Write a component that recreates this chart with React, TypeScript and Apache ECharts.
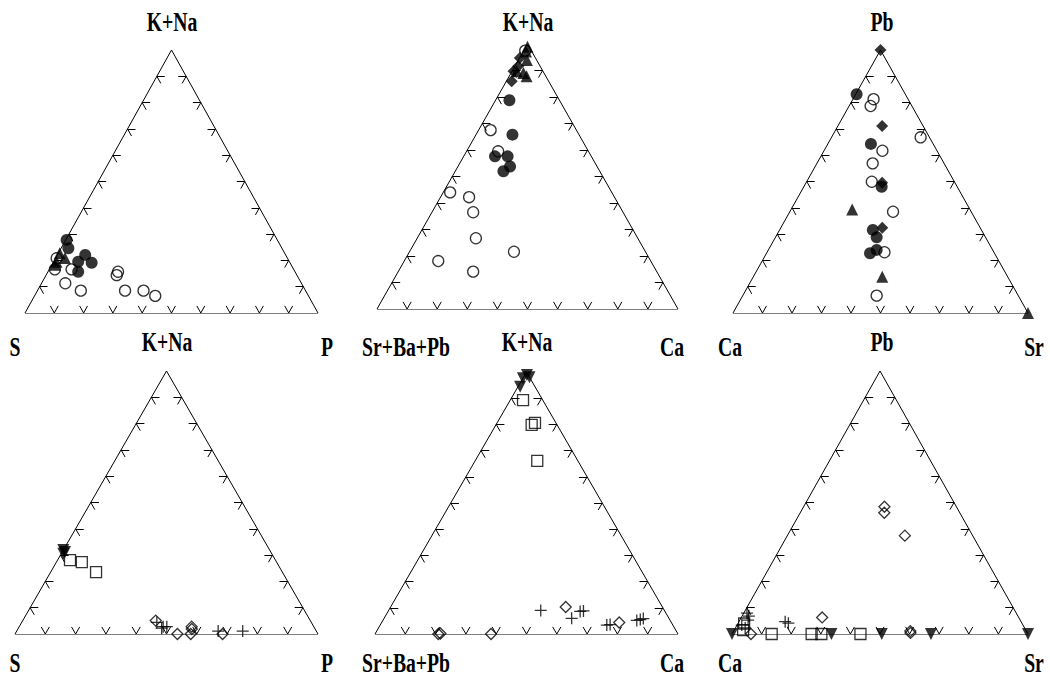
import React, { useEffect, useRef } from "react";
import * as echarts from "echarts";

// Every point is [top %, left %, right %] of its ternary diagram.

// Diagram 1: K+Na (top), S (left), P (right)
const t1OpenCircle = [[20.8, 78.8, 0.4], [16.6, 81.5, 1.9], [16.6, 75.8, 7.6], [11.3, 80.6, 8.1], [8.5, 76.7, 14.8], [15.7, 60.4, 23.9], [14.4, 61.5, 24.1], [8.5, 61.6, 29.9], [8.5, 55.3, 36.2], [6.5, 52.3, 41.2]];
const t1FilledCircle = [[27.8, 71.9, 0.3], [24.6, 72.9, 2.5], [22.1, 68.4, 9.5], [19.1, 67.7, 13.2], [19.5, 72.1, 8.4], [15.7, 74.0, 10.3]];
const t1FilledTriangle = [[22.7, 76.8, 0.5], [19.5, 79.5, 1.0], [20.9, 75.9, 3.2], [18.3, 80.6, 1.1]];

// Diagram 2: K+Na (top), Sr+Ba+Pb (left), Ca (right)
const t2OpenCircle = [[67.5, 28.5, 4.0], [59.5, 30.0, 10.5], [44.0, 53.7, 2.3], [42.2, 48.3, 9.5], [36.5, 49.8, 13.7], [26.7, 53.8, 19.5], [18.1, 70.6, 11.3], [14.1, 61.0, 24.9], [21.6, 43.7, 34.7], [97.5, 2.0, 0.5]];
const t2FilledCircle = [[78.8, 16.6, 4.6], [65.8, 22.1, 12.1], [57.6, 32.0, 10.4], [57.6, 27.8, 14.6], [53.8, 28.9, 17.3], [52.0, 32.0, 16.0]];
const t2FilledTriangle = [[99.0, 0.5, 0.5], [97.2, 1.9, 0.9], [89.1, 6.8, 4.1], [87.8, 6.4, 5.8], [89.7, 8.7, 1.6], [94.0, 3.2, 2.8]];
const t2FilledDiamond = [[94.7, 5.2, 0.1], [91.6, 7.3, 1.1], [89.7, 9.8, 0.5], [85.9, 12.3, 1.8]];

// Diagram 3: Pb (top), Ca (left), Sr (right)
const t3OpenCircle = [[81.3, 11.7, 7.0], [78.7, 14.0, 7.3], [61.7, 18.5, 19.8], [56.9, 24.2, 18.9], [49.9, 28.0, 22.1], [38.5, 26.5, 35.0], [66.8, 3.0, 30.2], [23.1, 37.1, 39.8], [6.6, 48.0, 45.4]];
const t3FilledCircle = [[83.2, 16.5, 0.3], [64.3, 21.1, 14.6], [48.0, 25.6, 26.4], [31.6, 36.8, 31.6], [28.8, 36.9, 34.3], [24.0, 39.3, 36.7], [22.7, 42.2, 35.1]];
const t3FilledTriangle = [[39.4, 39.9, 20.7], [13.8, 42.5, 43.7], [0, 0, 100]];
const t3FilledDiamond = [[100, 0, 0], [71.1, 13.9, 15.0], [49.5, 24.7, 25.8], [32.4, 33.2, 34.4]];

// Diagram 4: K+Na (top), S (left), P (right)
const t4DownTriangle = [[31.9, 68.1, 0], [31.2, 67.9, 0.9], [30.5, 68.8, 0.7]];
const t4OpenSquare = [[28.1, 67.8, 4.1], [27.3, 64.3, 8.4], [23.5, 61.5, 15.0]];
const t4OpenDiamond = [[5.1, 51.0, 43.9], [0, 46.4, 53.6], [2.8, 40.3, 56.9], [0, 42.0, 58.0], [0, 31.5, 68.5], [1.9, 40.7, 57.4]];
const t4Plus = [[4.4, 51.0, 44.6], [2.8, 49.7, 47.5], [2.8, 48.5, 48.7], [2.2, 50.5, 47.3], [1.1, 32.4, 66.5], [1.1, 24.3, 74.6]];

// Diagram 5: K+Na (top), Sr+Ba+Pb (left), Ca (right)
const t5DownTriangle = [[98.9, 0.4, 0.7], [97.6, 2.4, 0], [94.4, 4.9, 0.7], [98.0, 0, 2.0]];
const t5OpenSquare = [[89.3, 6.5, 4.2], [79.8, 8.4, 11.8], [80.6, 6.9, 12.5], [66.1, 13.4, 20.5]];
const t5OpenDiamond = [[10.3, 31.9, 57.8], [4.4, 17.2, 78.4], [0, 79.1, 20.9], [0.2, 78.3, 21.5], [0, 61.7, 38.3]];
const t5Plus = [[9.0, 40.8, 50.2], [8.6, 28.0, 63.4], [6.0, 32.1, 61.9], [3.4, 21.8, 74.8], [3.6, 20.6, 75.8], [5.2, 11.0, 83.8], [5.5, 9.7, 84.8], [5.9, 8.5, 85.6], [8.8, 26.8, 64.4]];

// Diagram 6: Pb (top), Ca (left), Sr (right)
const t6OpenDiamond = [[48.4, 24.3, 27.3], [46.1, 25.5, 28.4], [37.4, 22.9, 39.7], [6.3, 66.4, 27.3], [0, 93.6, 6.4], [1.1, 39.2, 59.7], [0.4, 39.5, 60.1]];
const t6OpenSquare = [[0, 86.6, 13.4], [0, 73.1, 26.9], [0, 69.8, 30.2], [0, 56.6, 43.4], [4.0, 93.9, 2.1], [1.5, 95.5, 3.0]];
const t6DownTriangle = [[0, 100, 0], [0, 66.4, 33.6], [0, 49.4, 50.6], [0, 32.8, 67.2], [0, 0, 100]];
const t6Plus = [[7.9, 91.0, 1.1], [5.3, 91.9, 2.8], [3.4, 95.0, 1.6], [4.7, 79.7, 15.6], [4.1, 78.9, 17.0], [2.3, 94.4, 3.3], [6.8, 90.9, 2.3]];

const tickValues = [10, 20, 30, 40, 50, 60, 70, 80, 90];
const labelsTop = ["K+Na", "K+Na", "Pb", "K+Na", "K+Na", "Pb"];
const labelsLeft = ["S", "Sr+Ba+Pb", "Ca", "S", "Sr+Ba+Pb", "Ca"];
const labelsRight = ["P", "Ca", "Sr", "P", "Ca", "Sr"];

const grids = [
  { left: 25, top: 50, width: 293, height: 263 },
  { left: 377, top: 44, width: 301, height: 265 },
  { left: 733, top: 50, width: 295, height: 263 },
  { left: 15, top: 371, width: 303, height: 263 },
  { left: 375, top: 372, width: 303, height: 262 },
  { left: 732, top: 371, width: 296, height: 263 },
];

const labelPos = [
  { top: [172, 22], left: [15, 347], right: [327, 347] },
  { top: [528, 22], left: [406, 347], right: [672, 347] },
  { top: [882, 22], left: [730, 347], right: [1034, 347] },
  { top: [167, 342], left: [15, 663], right: [327, 663] },
  { top: [527, 342], left: [406, 663], right: [672, 663] },
  { top: [882, 342], left: [730, 663], right: [1034, 663] },
];

const toXY = (p: number[]) => {
  const s = p[0] + p[1] + p[2];
  const a = p[0] / s;
  const c = p[2] / s;
  return [c + a / 2, a];
};

const TICK = 2.7;

const frameSegments = () => {
  const segs: number[][][] = [];
  const A = [100, 0, 0], B = [0, 100, 0], C = [0, 0, 100];
  segs.push([toXY(B), toXY(C)], [toXY(B), toXY(A)], [toXY(C), toXY(A)]);
  tickValues.forEach((v) => {
    const d = TICK;
    const base = [0, 100 - v, v];
    segs.push([toXY(base), toXY([d, 100 - v - d, v])], [toXY(base), toXY([d, 100 - v, v - d])]);
    const le = [v, 100 - v, 0];
    segs.push([toXY(le), toXY([v, 100 - v - d, d])], [toXY(le), toXY([v - d, 100 - v, d])]);
    const re = [v, 0, 100 - v];
    segs.push([toXY(re), toXY([v, d, 100 - v - d])], [toXY(re), toXY([v - d, d, 100 - v])]);
  });
  return segs;
};

const PLUS = "path://M5,0L5,10M0,5L10,5";
const OPEN = { color: "rgba(0,0,0,0)", borderColor: "#000", borderWidth: 1.3 };
const styles: Record<string, any> = {
  openCircle: { symbol: "circle", symbolSize: 11, itemStyle: OPEN },
  filledCircle: { symbol: "circle", symbolSize: 12, itemStyle: { color: "#000" } },
  filledTriangle: { symbol: "triangle", symbolSize: 12, itemStyle: { color: "#000" } },
  filledDiamond: { symbol: "diamond", symbolSize: 12, itemStyle: { color: "#000" } },
  downTriangle: { symbol: "triangle", symbolRotate: 180, symbolSize: 12, itemStyle: { color: "#000" } },
  openSquare: { symbol: "rect", symbolSize: 11, itemStyle: OPEN },
  openDiamond: { symbol: "diamond", symbolSize: 11, itemStyle: OPEN },
  plus: { symbol: PLUS, symbolSize: 12, itemStyle: { color: "none", borderColor: "#000", borderWidth: 1.3 } },
};

const diagrams: [string, number[][]][][] = [
  [["openCircle", t1OpenCircle], ["filledCircle", t1FilledCircle], ["filledTriangle", t1FilledTriangle]],
  [["openCircle", t2OpenCircle], ["filledCircle", t2FilledCircle], ["filledTriangle", t2FilledTriangle], ["filledDiamond", t2FilledDiamond]],
  [["openCircle", t3OpenCircle], ["filledCircle", t3FilledCircle], ["filledTriangle", t3FilledTriangle], ["filledDiamond", t3FilledDiamond]],
  [["downTriangle", t4DownTriangle], ["openSquare", t4OpenSquare], ["openDiamond", t4OpenDiamond], ["plus", t4Plus]],
  [["downTriangle", t5DownTriangle], ["openSquare", t5OpenSquare], ["openDiamond", t5OpenDiamond], ["plus", t5Plus]],
  [["openDiamond", t6OpenDiamond], ["openSquare", t6OpenSquare], ["downTriangle", t6DownTriangle], ["plus", t6Plus]],
];

const textEl = (text: string, x: number, y: number) => ({
  type: "text",
  x,
  y,
  scaleX: 0.82,
  scaleY: 1.1,
  silent: true,
  style: {
    text,
    fill: "#000",
    font: "bold 24px 'Times New Roman', Times, 'Liberation Serif', serif",
    align: "center",
    verticalAlign: "middle",
  },
});

export default function App() {
  const ref = useRef<HTMLDivElement>(null);
  useEffect(() => {
    if (!ref.current) return;
    const chart = echarts.init(ref.current, null, { renderer: "svg" });
    const segs = frameSegments();
    const series: any[] = [];
    grids.forEach((_, i) => {
      series.push({
        type: "lines",
        coordinateSystem: "cartesian2d",
        xAxisIndex: i,
        yAxisIndex: i,
        silent: true,
        lineStyle: { color: "#000", width: 1, opacity: 1, curveness: 0 },
        data: segs.map((s) => ({ coords: s })),
      });
      diagrams[i].forEach(([kind, pts]) => {
        series.push({
          type: "scatter",
          xAxisIndex: i,
          yAxisIndex: i,
          clip: false,
          silent: true,
          ...styles[kind],
          data: pts.map(toXY),
        });
      });
    });
    const graphics: any[] = [];
    labelPos.forEach((lp, i) => {
      graphics.push(textEl(labelsTop[i], lp.top[0], lp.top[1]));
      graphics.push(textEl(labelsLeft[i], lp.left[0], lp.left[1]));
      graphics.push(textEl(labelsRight[i], lp.right[0], lp.right[1]));
    });
    chart.setOption({
      animation: false,
      backgroundColor: "#fff",
      grid: grids.map((g) => ({ ...g, containLabel: false })),
      xAxis: grids.map((_, i) => ({ type: "value", gridIndex: i, min: 0, max: 1, show: false })),
      yAxis: grids.map((_, i) => ({ type: "value", gridIndex: i, min: 0, max: 1, show: false })),
      series,
      graphic: graphics,
    });
    return () => chart.dispose();
  }, []);
  return <div ref={ref} style={{ position: "absolute", left: 0, top: 0, width: 1050, height: 677 }} />;
}
